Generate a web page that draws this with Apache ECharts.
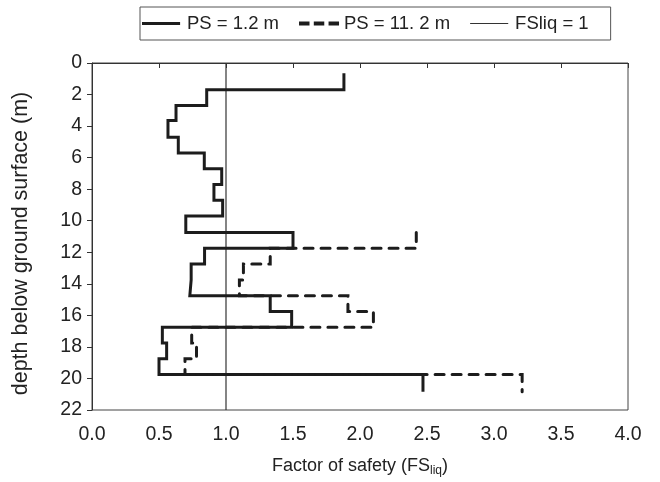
<!DOCTYPE html>
<html>
<head>
<meta charset="utf-8">
<script src="https://cdn.jsdelivr.net/npm/echarts@6/dist/echarts.min.js"></script>
<style>
  html, body { margin: 0; padding: 0; background: #fff; }
  #chart { width: 660px; height: 482px; }
</style>
</head>
<body>
<div id="chart"></div>
<script>
// Layer boundaries (depth, m) shared by both profiles
const depthBounds = [0.65, 1.7, 2.7, 3.65, 4.7, 5.7, 6.7, 7.7, 8.7, 9.7,
                     10.75, 11.75, 12.75, 13.75, 14.75, 15.75, 16.75, 17.75, 18.75, 19.75, 20.85];

// Factor of safety per layer, PS = 1.2 m (one value per layer)
const fsPS12 = [1.88, 0.856, 0.627, 0.567, 0.644, 0.838, 0.968, 0.91, 0.975, 0.70,
                1.50, 0.84, 0.74, 0.73, 1.33, 1.49, 0.525, 0.557, 0.50, 2.47];

// Factor of safety per layer, PS = 11.2 m (starts at layer index 10)
const fsPS112Start = 10;
const fsPS112 = [2.42, 1.33, 1.13, 1.10, 1.91, 2.10, 0.744, 0.78, 0.694, 3.21];

// Reference line FSliq = 1
const fsLimit = 1;
const depthRange = [0, 22];

const xTicks = ['0.0', '0.5', '1.0', '1.5', '2.0', '2.5', '3.0', '3.5', '4.0'];

const seriesNames = ['PS = 1.2 m', 'PS = 11. 2 m', 'FSliq = 1'];

// Turn per-layer values into a stepped [fs, depth] polyline
function stepProfile(bounds, values, startIdx) {
  const pts = [];
  values.forEach((v, i) => {
    const k = startIdx + i;
    pts.push([v, bounds[k]]);
    pts.push([v, bounds[k + 1]]);
  });
  return pts;
}

const ink = '#1c1c1c';
const font = 'Liberation Sans, Arial, sans-serif';

// Legend glyphs: 42x5 boxes so that each line keeps its own thickness
const iconSolid = 'path://M0,0L0,0M0,1H40V4H0ZM42,5L42,5';
const iconDash = 'path://M0,0L0,0M0,0.5H11V4.5H0ZM15.5,0.5H26.5V4.5H15.5ZM31,0.5H42V4.5H31ZM42,5L42,5';
const iconThin = 'path://M0,0L0,0M0,1.9H40V3.1H0ZM42,5L42,5';

const chart = echarts.init(document.getElementById('chart'), null, { renderer: 'canvas' });

chart.setOption({
  animation: false,
  backgroundColor: '#fff',
  textStyle: { fontFamily: font, color: '#222' },
  legend: {
    left: 140,
    top: 7,
    padding: [7, 22, 7, 2],
    itemGap: 20,
    itemWidth: 40,
    itemHeight: 5,
    symbolKeepAspect: false,
    borderColor: '#555',
    borderWidth: 1,
    textStyle: { fontSize: 18.5, color: '#222', fontFamily: font },
    data: [
      { name: seriesNames[0], icon: iconSolid, itemStyle: { color: ink } },
      { name: seriesNames[1], icon: iconDash, itemStyle: { color: ink } },
      { name: seriesNames[2], icon: iconThin, itemStyle: { color: '#333' } }
    ]
  },
  grid: {
    left: 92, right: 32, top: 63, bottom: 72,
    show: true, borderColor: '#444', borderWidth: 1, backgroundColor: 'transparent'
  },
  xAxis: {
    type: 'value',
    min: 0, max: 4, interval: 0.5,
    name: 'Factor of safety (FS{sub|liq})',
    nameLocation: 'middle',
    nameGap: 46,
    nameTextStyle: {
      fontSize: 18, color: '#222', fontFamily: font,
      rich: { sub: { fontSize: 12, verticalAlign: 'bottom', padding: [9, 0, 0, 0], color: '#222', fontFamily: font } }
    },
    axisLine: { show: true, lineStyle: { color: '#333', width: 1 } },
    axisTick: { show: true, inside: false, length: 5, lineStyle: { color: '#333' } },
    axisLabel: {
      fontSize: 19.5, color: '#222', margin: 15,
      formatter: (v) => xTicks[Math.round(v / 0.5)]
    },
    splitLine: { show: false }
  },
  yAxis: {
    type: 'value',
    inverse: true,
    min: depthRange[0], max: depthRange[1], interval: 2,
    name: 'depth below ground surface (m)',
    nameLocation: 'middle',
    nameGap: 60,
    nameTextStyle: { fontSize: 21.5, color: '#222', fontFamily: font, padding: [0, 14, 0, 0] },
    axisLine: { show: true, lineStyle: { color: '#333', width: 1 } },
    axisTick: { show: true, inside: false, length: 5, lineStyle: { color: '#333' } },
    axisLabel: { fontSize: 19.5, color: '#222', margin: 10 },
    splitLine: { show: false }
  },
  series: [
    {
      name: seriesNames[0],
      type: 'line',
      showSymbol: false,
      symbol: 'none',
      data: stepProfile(depthBounds, fsPS12, 0),
      lineStyle: { color: ink, width: 3, cap: 'butt', join: 'miter' },
      itemStyle: { color: ink },
      z: 3
    },
    {
      name: seriesNames[1],
      type: 'line',
      showSymbol: false,
      symbol: 'none',
      data: stepProfile(depthBounds, fsPS112, fsPS112Start),
      lineStyle: { color: ink, width: 3, type: [9, 8], cap: 'round', join: 'miter' },
      itemStyle: { color: ink },
      z: 4
    },
    {
      name: seriesNames[2],
      type: 'line',
      showSymbol: false,
      symbol: 'none',
      data: [[fsLimit, depthRange[0]], [fsLimit, depthRange[1]]],
      lineStyle: { color: '#333', width: 1.2 },
      itemStyle: { color: '#333' },
      z: 2
    }
  ]
});
</script>
</body>
</html>
